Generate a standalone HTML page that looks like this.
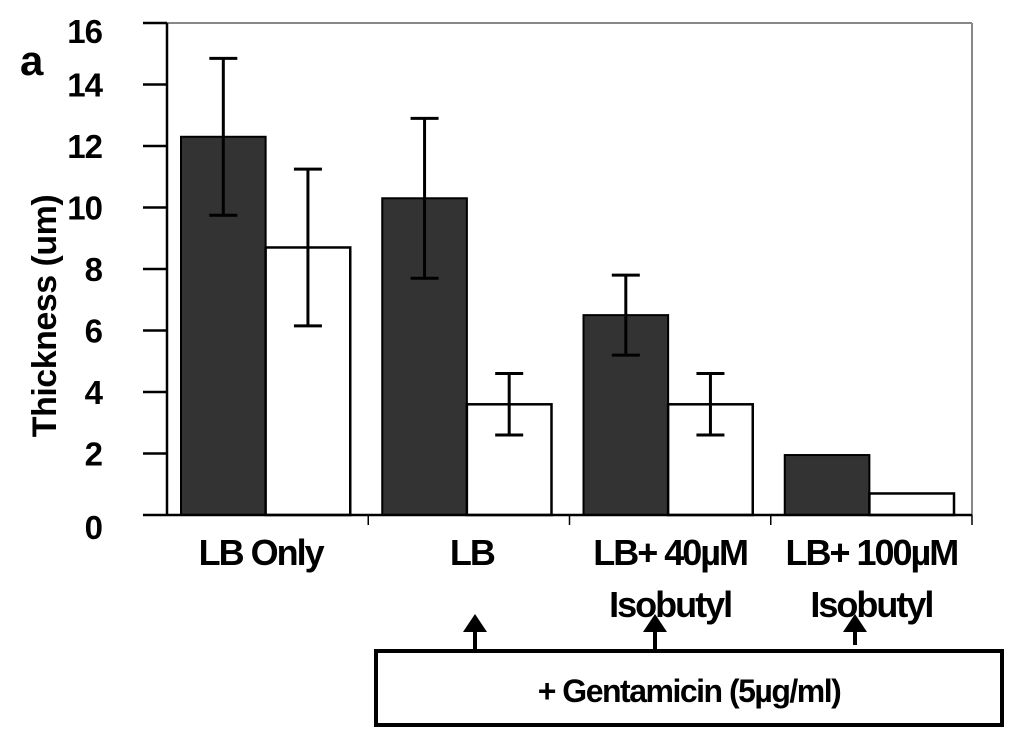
<!DOCTYPE html>
<html><head><meta charset="utf-8">
<style>
body{margin:0;background:#fff;}
svg text{font-family:"Liberation Sans",sans-serif;font-weight:bold;fill:#000;}
</style></head>
<body>
<svg id="chart" width="1024" height="750" viewBox="0 0 1024 750" xmlns="http://www.w3.org/2000/svg">
<g id="plot"></g>
<text x="20" y="75" font-size="42">a</text>
<text transform="translate(56,316) rotate(-90)" text-anchor="middle" font-size="34" letter-spacing="-0.5">Thickness (um)</text>
<g>
<rect x="376" y="651" width="626" height="74" fill="#fff" stroke="#000" stroke-width="4"/>
<text x="689" y="702" text-anchor="middle" font-size="32" letter-spacing="-1.5">+ Gentamicin (5µg/ml)</text>
<g><line x1="475" y1="650" x2="475" y2="628" stroke="#000" stroke-width="4"/><polygon points="463,632 487,632 475,614" fill="#000"/></g>
<g><line x1="655" y1="650" x2="655" y2="628" stroke="#000" stroke-width="4"/><polygon points="643,632 667,632 655,614" fill="#000"/></g>
<g><line x1="855" y1="645" x2="855" y2="628" stroke="#000" stroke-width="4"/><polygon points="843,632 867,632 855,614" fill="#000"/></g>
</g>
</svg>
<script>
const categories = [["LB Only"], ["LB"], ["LB+ 40µM", "Isobutyl"], ["LB+ 100µM", "Isobutyl"]];
const darkValues = [12.3, 10.3, 6.5, 1.95];
const darkErrors = [2.55, 2.6, 1.3, 0];
const whiteValues = [8.7, 3.6, 3.6, 0.7];
const whiteErrors = [2.55, 1.0, 1.0, 0];
const yTicks = [0, 2, 4, 6, 8, 10, 12, 14, 16];

const NS = "http://www.w3.org/2000/svg";
const g = document.getElementById("plot");
const L = 167, R = 972, T = 23, B = 515, yMax = 16;
const y = v => B - (v / yMax) * (B - T);
const catW = (R - L) / categories.length;
const x = i => L + i * catW;
function mk(tag, attrs) { const e = document.createElementNS(NS, tag); for (const k in attrs) e.setAttribute(k, attrs[k]); g.appendChild(e); return e; }

let e;
e = mk("line", {x1: L, y1: T, x2: R, y2: T, stroke: "#888", "stroke-width": 2});


e = mk("line", {x1: R, y1: T, x2: R, y2: B, stroke: "#888", "stroke-width": 2});



yTicks.forEach(t => {
  const tl = mk("line", {x1: L - 24, y1: y(t), x2: L, y2: y(t), stroke: "#000", "stroke-width": 2.5});
  
  
  const tx = mk("text", {x: 102, y: y(t) + 12 + (t === 16 ? 8 : 0) + (t === 0 ? 12 : 0), "text-anchor": "end", "font-size": 33, "letter-spacing": "-1"});
  tx.textContent = t;
  
  
});

categories.forEach((c, i) => {
  const x0 = x(i);
  const bw = (catW - 32) / 2;
  const dx = x0 + 14, wx = dx + bw;
  const d = mk("rect", {x: dx, y: y(darkValues[i]), width: bw, height: B - y(darkValues[i]), fill: "#333", stroke: "#000", "stroke-width": 2});
  
  
  const w = mk("rect", {x: wx, y: y(whiteValues[i]), width: bw, height: B - y(whiteValues[i]), fill: "#fff", stroke: "#000", "stroke-width": 2.5});
  
  
  [[dx + bw / 2, darkValues[i], darkErrors[i]], [wx + bw / 2, whiteValues[i], whiteErrors[i]]].forEach(([cx, v, er]) => {
    if (!er) return;
    const eb = mk("path", {d: `M${cx},${y(v + er)}V${y(v - er)}M${cx - 14},${y(v + er)}H${cx + 14}M${cx - 14},${y(v - er)}H${cx + 14}`, stroke: "#000", "stroke-width": 3, fill: "none"});
    
    
  });
  const tk = mk("line", {x1: x0 + catW, y1: B, x2: x0 + catW, y2: B + 10, stroke: "#000", "stroke-width": 1.5});
  
  
  c.forEach((line, j) => {
    const t = mk("text", {x: x0 + catW / 2 + (i === 0 ? -7 : 0) + (i === 1 ? 3 : 0), y: 565 + j * 52, "text-anchor": "middle", "font-size": 36, "letter-spacing": "-2"});
    t.textContent = line;
    
    
  });
});
e = mk("line", {x1: L, y1: B, x2: R, y2: B, stroke: "#000", "stroke-width": 2.5});


e = mk("line", {x1: L, y1: T, x2: L, y2: B, stroke: "#000", "stroke-width": 2.5});


</script>
</body></html>
